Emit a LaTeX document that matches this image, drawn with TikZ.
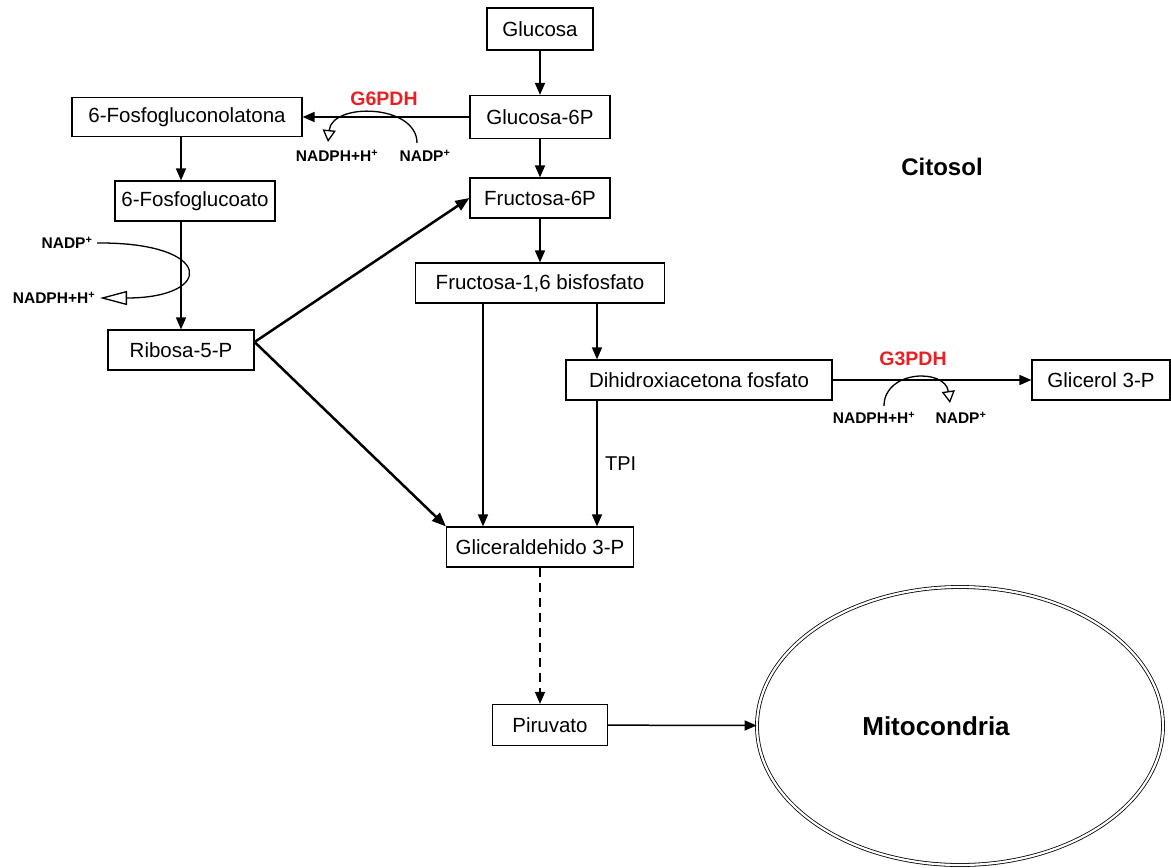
\documentclass[tikz,border=0pt]{standalone}
\usepackage{fontspec}
\setmainfont{Liberation Sans}
\usetikzlibrary{arrows.meta,shapes.geometric}
\definecolor{enz}{RGB}{232,32,36}
\begin{document}
\begin{tikzpicture}[x=1pt,y=-1pt,
  box/.style={draw,line width=1.2pt,minimum height=40pt,inner sep=0pt,font=\fontsize{20.5}{22}\selectfont},
  arr/.style={line width=1.5pt,-{Triangle[length=12pt,width=10pt]}},
  thickarr/.style={line width=2.5pt,-{Triangle[length=14pt,width=11pt]}},
  opentip/.style={line width=1.3pt,-{Triangle[open,length=12pt,width=13pt]}},
  cof/.style={font=\fontsize{15.5}{16}\selectfont\bfseries},
  enzlbl/.style={font=\fontsize{19.5}{20}\selectfont\bfseries,text=enz}]
\useasboundingbox (0,0) rectangle (1171,868);
% boxes
\node[box,minimum width=106pt,minimum height=42pt] (glu) at (540,29) {Glucosa};
\node[box,minimum width=140pt,minimum height=43pt] (g6p) at (540,117) {Glucosa-6P};
\node[box,minimum width=230pt,minimum height=39pt] (fgl) at (187,117) {6-Fosfogluconolatona};
\node[box,minimum width=160pt] (fga) at (195,201) {6-Fosfoglucoato};
\node[box,minimum width=140pt] (f6p) at (540,198) {Fructosa-6P};
\node[box,minimum width=249pt] (f16) at (540,283) {Fructosa-1,6 bisfosfato};
\node[box,minimum width=146pt] (rib) at (181,350) {Ribosa-5-P};
\node[box,minimum width=266pt] (dha) at (699,380) {Dihidroxiacetona fosfato};
\node[box,minimum width=138pt] (gli) at (1101,380) {Glicerol 3-P};
\node[box,minimum width=187pt] (gla) at (540,547) {Gliceraldehido 3-P};
\node[box,minimum width=115pt,minimum height=41pt] (pir) at (550,725) {Piruvato};
\node[ellipse,draw,line width=0.8pt,double,double distance=2.2pt,minimum width=406pt,minimum height=278pt] (mito) at (960,726) {};
\node[font=\fontsize{26}{28}\selectfont\bfseries] (mtxt) at (936,726) {Mitocondria};
\node[font=\fontsize{24}{26}\selectfont\bfseries] (cit) at (942,167) {Citosol};
% helper coordinates
\coordinate (cL) at (483,0);
\coordinate (cR) at (597,0);
% main arrows
\draw[arr] (glu) -- (g6p);
\draw[arr] (g6p) -- (fgl);
\draw[arr] (fgl.south -| rib) -- (fga.north -| rib);
\draw[arr] (fga.south -| rib) -- (rib);
\draw[arr] (g6p) -- (f6p);
\draw[arr] (f6p) -- (f16);
\draw[thickarr] (rib.east) ++(0,-8) coordinate (rbe) -- (f6p.west);
\draw[thickarr] (rbe) -- (gla.north west);
\draw[arr] (f16.south -| cL) -- (gla.north -| cL);
\draw[arr] (f16.south -| cR) -- (dha.north -| cR);
\draw[arr] (dha.south -| cR) -- node[right=4pt,font=\fontsize{20}{21}\selectfont] (tpi) {TPI} (gla.north -| cR);
\draw[arr] (dha) -- (gli);
\draw[arr,dashed,dash pattern=on 9pt off 6pt] (gla) -- (gla |- pir.north);
\draw[arr] (pir) -- (mito);
% G6PDH
\node[enzlbl] (e1) at (384,99) {G6PDH};
\node[cof] (n1a) at (337,156) {NADPH+H\textsuperscript{+}};
\node[cof] (n1b) at (425,156) {NADP\textsuperscript{+}};
\coordinate (a1s) at (417,143);
\coordinate (a1e) at (328,142);
\draw[opentip] (a1s) .. controls (417,104) and (332,102) .. (a1e);
% left curve
\node[cof] (n2a) at (67,243) {NADP\textsuperscript{+}};
\node[cof] (n2b) at (54,298) {NADPH+H\textsuperscript{+}};
\coordinate (a2s) at (97,243);
\coordinate (a2e) at (100,298);
\draw[line width=1.3pt,-{Triangle[open,length=27pt,width=14pt]}] (a2s) .. controls (215,242) and (215,298) .. (a2e);
% G3PDH
\node[enzlbl] (e2) at (913,359) {G3PDH};
\node[cof] (n3a) at (874,418) {NADPH+H\textsuperscript{+}};
\node[cof] (n3b) at (961,418) {NADP\textsuperscript{+}};
\coordinate (a3s) at (884,406);
\coordinate (a3e) at (950,403);
\draw[opentip] (a3s) .. controls (884,370) and (945,368) .. (a3e);
\end{tikzpicture}
\end{document}
